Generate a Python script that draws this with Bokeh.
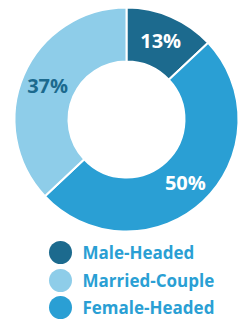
import math
from bokeh.plotting import figure
from bokeh.models import Range1d, ColumnDataSource
from bokeh.core.properties import value
from bokeh.embed import file_html
from bokeh.resources import INLINE

categories = ["Male-Headed", "Married-Couple", "Female-Headed"]
shares = [13, 37, 50]
labels = ["13%", "37%", "50%"]
colors = ["#1c6a8e", "#8ecde9", "#2a9fd4"]
label_colors = ["#ffffff", "#1c6a8e", "#ffffff"]
pie_order = [0, 2, 1]  # clockwise from top: Male, Female, Married

W, H = 243, 319
p = figure(width=W, height=H, output_backend="svg", toolbar_location=None,
           x_range=Range1d(0, W), y_range=Range1d(0, H), min_border=0)
p.axis.visible = False
p.grid.visible = False
p.outline_line_color = None
p.background_fill_color = "white"
p.border_fill_color = "white"

cx, cy = 126, H - 119
r_in, r_out = 58, 112
total = sum(shares)
starts, ends, cols, lx, ly, ltxt, lcol = [], [], [], [], [], [], []
cum = 0.0
for i in pie_order:
    a0 = math.pi / 2 - 2 * math.pi * cum / total
    cum += shares[i]
    a1 = math.pi / 2 - 2 * math.pi * cum / total
    starts.append(a0); ends.append(a1); cols.append(colors[i])
    mid = (a0 + a1) / 2
    lr = 86
    lx.append(cx + lr * math.cos(mid)); ly.append(cy + lr * math.sin(mid))
    ltxt.append(labels[i]); lcol.append(label_colors[i])

src = ColumnDataSource(dict(start=starts, end=ends, color=cols))
p.annular_wedge(x=cx, y=cy, inner_radius=r_in, outer_radius=r_out,
                inner_radius_units="screen", outer_radius_units="screen",
                start_angle="start", end_angle="end", direction="clock",
                fill_color="color", line_color="white", line_width=2, source=src)

lsrc = ColumnDataSource(dict(x=lx, y=ly, t=ltxt, c=lcol))
p.text(x="x", y="y", text="t", text_color="c", source=lsrc,
       text_font=value("Open Sans"), text_font_style="bold", text_font_size="20px",
       text_align="center", text_baseline="middle")

# legend
leg_y = [H - 252, H - 280, H - 307]
leg_x = [60] * 3
p.scatter(x=leg_x, y=leg_y, size=23, marker="circle", fill_color=colors, line_color=None)
p.text(x=[82] * 3, y=leg_y, text=categories, text_color="#2a9fd4",
       text_font=value("Open Sans"), text_font_style="bold", text_font_size="17px",
       text_align="left", text_baseline="middle")

open("out.html", "w").write(file_html(p, INLINE))
